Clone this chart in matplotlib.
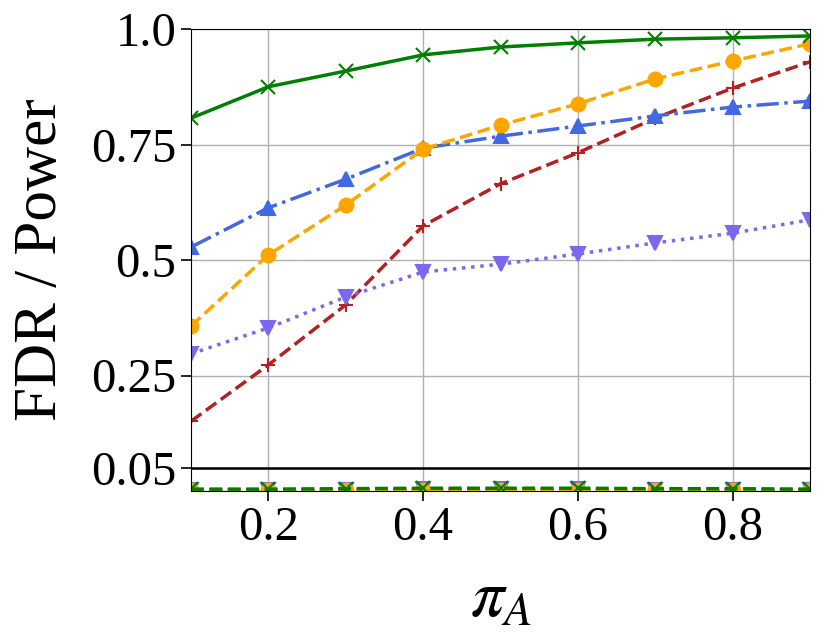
import numpy as np
import matplotlib
matplotlib.use("Agg")
import matplotlib.pyplot as plt

plt.rcParams['font.family'] = 'serif'
plt.rcParams['font.serif'] = ['Liberation Serif', 'DejaVu Serif']
plt.rcParams['mathtext.fontset'] = 'stix'

pi_a = [0.1, 0.2, 0.3, 0.4, 0.5, 0.6, 0.7, 0.8, 0.9]

# power curves
power_green = [0.807, 0.875, 0.909, 0.944, 0.961, 0.970, 0.978, 0.981, 0.985]
power_orange = [0.357, 0.511, 0.619, 0.740, 0.792, 0.838, 0.892, 0.931, 0.968]
power_blue = [0.528, 0.613, 0.675, 0.742, 0.768, 0.790, 0.812, 0.831, 0.844]
power_red = [0.151, 0.273, 0.403, 0.574, 0.665, 0.732, 0.807, 0.872, 0.929]
power_purple = [0.297, 0.353, 0.420, 0.474, 0.491, 0.513, 0.537, 0.558, 0.587]

# FDR curves (all close to zero)
fdr_green = [0.004, 0.004, 0.005, 0.006, 0.006, 0.006, 0.005, 0.005, 0.004]
fdr_orange = [0.002, 0.002, 0.002, 0.003, 0.003, 0.003, 0.002, 0.002, 0.002]
fdr_blue = [0.001, 0.001, 0.001, 0.001, 0.001, 0.001, 0.001, 0.001, 0.001]
fdr_red = [0.001, 0.001, 0.002, 0.002, 0.002, 0.002, 0.002, 0.001, 0.001]
fdr_purple = [0.003, 0.003, 0.003, 0.004, 0.004, 0.004, 0.003, 0.003, 0.003]

alpha = 0.05

styles = [
    (power_red, fdr_red, 'firebrick', '--', '+'),
    (power_purple, fdr_purple, 'mediumslateblue', ':', 'v'),
    (power_blue, fdr_blue, 'royalblue', '-.', '^'),
    (power_orange, fdr_orange, 'orange', '--', 'o'),
    (power_green, fdr_green, 'green', '-', 'x'),
]

fig = plt.figure(figsize=(8.31, 6.42), dpi=100)
ax = fig.add_axes([191 / 831, 1 - 491 / 642, (810 - 191) / 831, (491 - 29) / 642])

for power, fdr, color, ls, marker in styles:
    ax.plot(pi_a, power, color=color, linestyle=ls, marker=marker,
            linewidth=2.5, markersize=10, markeredgewidth=1.5)
    ax.plot(pi_a, fdr, color=color, linestyle='--', marker=marker,
            linewidth=2.5, markersize=10, markeredgewidth=1.5)

ax.axhline(alpha, color='black', linewidth=1.8)

ax.set_xlim(0.1, 0.9)
ax.set_ylim(0, 1)
ax.set_xticks([0.2, 0.4, 0.6, 0.8])
ax.set_yticks([0.05, 0.25, 0.5, 0.75, 1.0])
ax.set_yticklabels(['0.05', '0.25', '0.5', '0.75', '1.0'])
ax.tick_params(labelsize=35, length=7, width=1.2)
ax.grid(True, color='#b0b0b0', linewidth=1)
ax.set_axisbelow(True)

ax.set_xlabel(r'$\pi_A$', fontsize=48, labelpad=14)
ax.set_ylabel('FDR / Power', fontsize=44, labelpad=16)

fig.savefig('out.png', dpi=100)
plt.close(fig)
